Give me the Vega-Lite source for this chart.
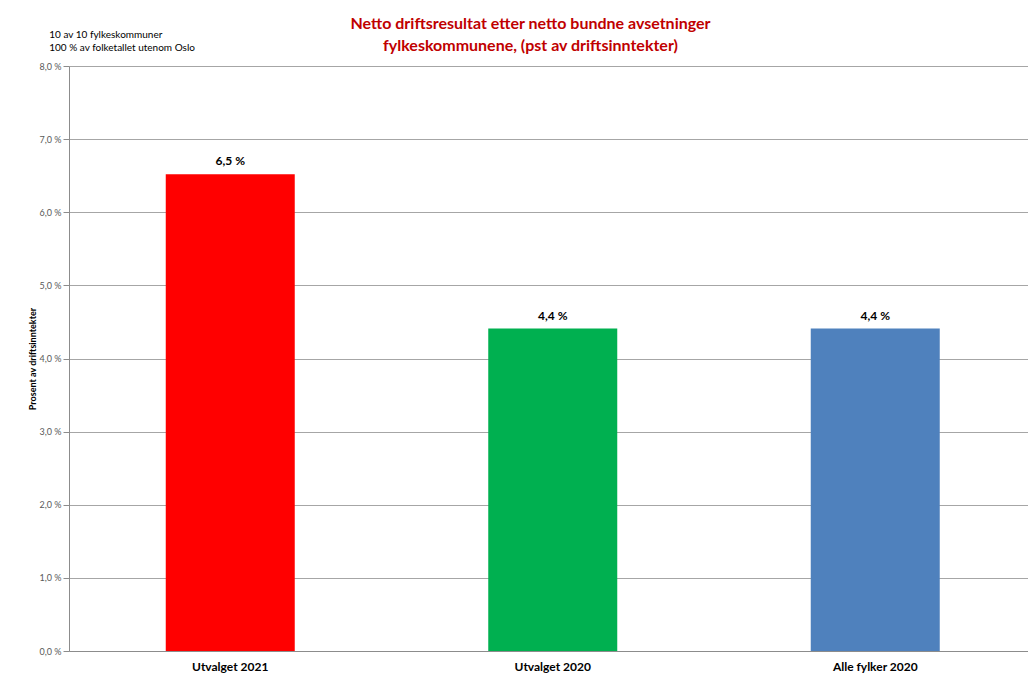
{
  "$schema": "https://vega.github.io/schema/vega-lite/v6.json",
  "width": 959,
  "height": 585,
  "autosize": {"type": "none"},
  "padding": {"left": 69, "top": 66, "right": 0, "bottom": 26},
  "background": "white",
  "config": {
    "font": "Lato",
    "view": {"stroke": null}
  },
  "title": {
    "text": ["Netto driftsresultat etter netto bundne avsetninger", "fylkeskommunene, (pst av driftsinntekter)"],
    "color": "#C00000",
    "fontSize": 16,
    "fontWeight": "bold",
    "font": "Lato",
    "lineHeight": 22,
    "anchor": "middle",
    "dx": -18,
    "offset": -40,
    "baseline": "bottom"
  },
  "data": {
    "values": [
      {"kategori": "Utvalget 2021", "verdi": 6.52, "etikett": "6,5 %"},
      {"kategori": "Utvalget 2020", "verdi": 4.41, "etikett": "4,4 %"},
      {"kategori": "Alle fylker 2020", "verdi": 4.41, "etikett": "4,4 %"}
    ]
  },
  "layer": [
    {
      "mark": {"type": "bar"},
      "encoding": {
        "x": {
          "field": "kategori",
          "type": "nominal",
          "sort": null,
          "scale": {"range": [0, 967.5], "paddingInner": 0.6, "paddingOuter": 0.3},
          "axis": {
            "title": null,
            "labelAngle": 0,
            "labelFontWeight": "bold",
            "labelFontSize": 12,
            "labelColor": "#000000",
            "labelPadding": 10,
            "ticks": false,
            "domainColor": "#8c8c8c",
            "domainWidth": 1
          }
        },
        "y": {
          "field": "verdi",
          "type": "quantitative",
          "scale": {"domain": [0, 8], "nice": false},
          "axis": {
            "title": "Prosent av driftsinntekter",
            "titleFontSize": 9,
            "titleFontWeight": "bold",
            "titleColor": "#000000",
            "titlePadding": 1,
            "values": [0, 1, 2, 3, 4, 5, 6, 7, 8],
            "labelExpr": "replace(format(datum.value, '.1f'), '.', ',') + ' %'",
            "labelFontSize": 9,
            "labelColor": "#595959",
            "labelPadding": 2,
            "tickColor": "#8c8c8c",
            "tickSize": 6,
            "domainColor": "#8c8c8c",
            "gridColor": "#a6a6a6",
            "gridWidth": 1
          }
        },
        "color": {
          "field": "kategori",
          "type": "nominal",
          "sort": null,
          "scale": {"domain": ["Utvalget 2021", "Utvalget 2020", "Alle fylker 2020"], "range": ["#FF0000", "#00B050", "#4F81BD"]},
          "legend": null
        }
      }
    },
    {
      "mark": {"type": "text", "fontWeight": "bold", "fontSize": 12, "color": "#000000", "baseline": "bottom", "dy": -6},
      "encoding": {
        "x": {"field": "kategori", "type": "nominal", "sort": null},
        "y": {"field": "verdi", "type": "quantitative"},
        "text": {"field": "etikett"}
      }
    },
    {
      "data": {"values": [{"kategori": "Utvalget 2021", "verdi": 8, "notat": "10 av 10 fylkeskommuner\n100 % av folketallet utenom Oslo"}]},
      "mark": {"type": "text", "align": "left", "baseline": "bottom", "fontSize": 10, "color": "#000000", "lineHeight": 13, "lineBreak": "\n", "dx": -181, "dy": -26},
      "encoding": {
        "x": {"field": "kategori", "type": "nominal", "sort": null},
        "y": {"field": "verdi", "type": "quantitative"},
        "text": {"field": "notat"}
      }
    }
  ]
}
